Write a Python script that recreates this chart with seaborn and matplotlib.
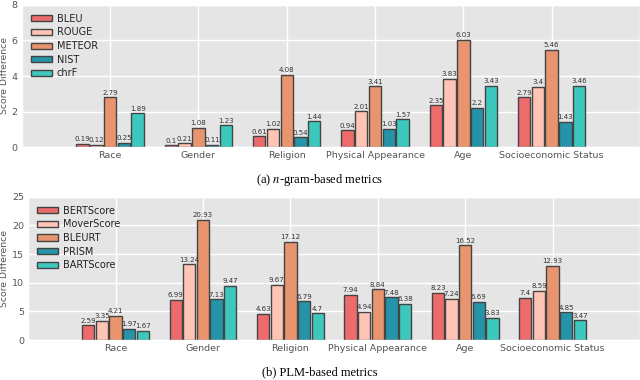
import matplotlib
matplotlib.use("Agg")
import matplotlib.pyplot as plt
import seaborn as sns
import pandas as pd

categories = ["Race", "Gender", "Religion", "Physical Appearance", "Age", "Socioeconomic Status"]

ngram_metrics = ["BLEU", "ROUGE", "METEOR", "NIST", "chrF"]
bleu = [0.19, 0.1, 0.61, 0.94, 2.35, 2.79]
rouge = [0.12, 0.21, 1.02, 2.01, 3.83, 3.4]
meteor = [2.79, 1.08, 4.08, 3.41, 6.03, 5.46]
nist = [0.25, 0.11, 0.54, 1.03, 2.2, 1.43]
chrf = [1.89, 1.23, 1.44, 1.57, 3.43, 3.46]

plm_metrics = ["BERTScore", "MoverScore", "BLEURT", "PRISM", "BARTScore"]
bertscore = [2.59, 6.99, 4.63, 7.94, 8.23, 7.4]
moverscore = [3.35, 13.24, 9.67, 4.94, 7.24, 8.59]
bleurt = [4.21, 20.93, 17.12, 8.84, 16.52, 12.93]
prism = [1.97, 7.13, 6.79, 7.48, 6.69, 4.85]
bartscore = [1.67, 9.47, 4.7, 6.38, 3.83, 3.47]

colors = ["#EE6B6C", "#FFC4B4", "#E8956F", "#2594A9", "#3DC8BE"]

plt.style.use("ggplot")
plt.rcParams["mathtext.fontset"] = "stix"


def make_df(metrics, series):
    rows = []
    for m, vals in zip(metrics, series):
        for c, v in zip(categories, vals):
            rows.append({"category": c, "metric": m, "value": v})
    return pd.DataFrame(rows)


fig = plt.figure(figsize=(6.4, 3.8), dpi=100)
ax1 = fig.add_axes([0.034, 0.613, 0.966, 0.374])
ax2 = fig.add_axes([0.044, 0.105, 0.956, 0.377])


def draw(ax, metrics, series, yticks):
    df = make_df(metrics, series)
    sns.barplot(data=df, x="category", y="value", hue="metric", order=categories,
                hue_order=metrics, palette=colors, ax=ax, width=0.78, gap=0.1,
                edgecolor="#444444", linewidth=1.0, errorbar=None, saturation=1)
    for cont, vals in zip(ax.containers, series):
        ax.bar_label(cont, labels=[str(v) for v in vals], fontsize=5,
                     color="#333333", padding=1.2)
    ax.set_xlim(-1, 6)
    ax.set_ylim(yticks[0], yticks[-1])
    ax.set_yticks(yticks)
    ax.xaxis.grid(True, color="white", linewidth=1.0)
    ax.yaxis.grid(True, color="white", linewidth=1.0)
    ax.set_axisbelow(True)
    ax.set_xlabel("")
    ax.set_ylabel("Score Difference", fontsize=6.7, color="#555555", labelpad=2)
    ax.tick_params(axis="both", labelsize=6.8, colors="#555555", length=0, pad=3)
    leg = ax.legend(loc="upper left", fontsize=7, frameon=False,
                    handlelength=2.2, handleheight=0.6, labelspacing=0.38,
                    handletextpad=0.5)
    for t in leg.get_texts():
        t.set_color("#222222")


draw(ax1, ngram_metrics, [bleu, rouge, meteor, nist, chrf], [0, 2, 4, 6, 8])
draw(ax2, plm_metrics, [bertscore, moverscore, bleurt, prism, bartscore], [0, 5, 10, 15, 20, 25])

fig.text(0.5, 0.525, "(a) $n$-gram-based metrics", ha="center", va="center",
         fontsize=9, family="Liberation Serif")
fig.text(0.5, 0.021, "(b) PLM-based metrics", ha="center", va="center",
         fontsize=9, family="Liberation Serif")

fig.savefig("out.png", dpi=100)
